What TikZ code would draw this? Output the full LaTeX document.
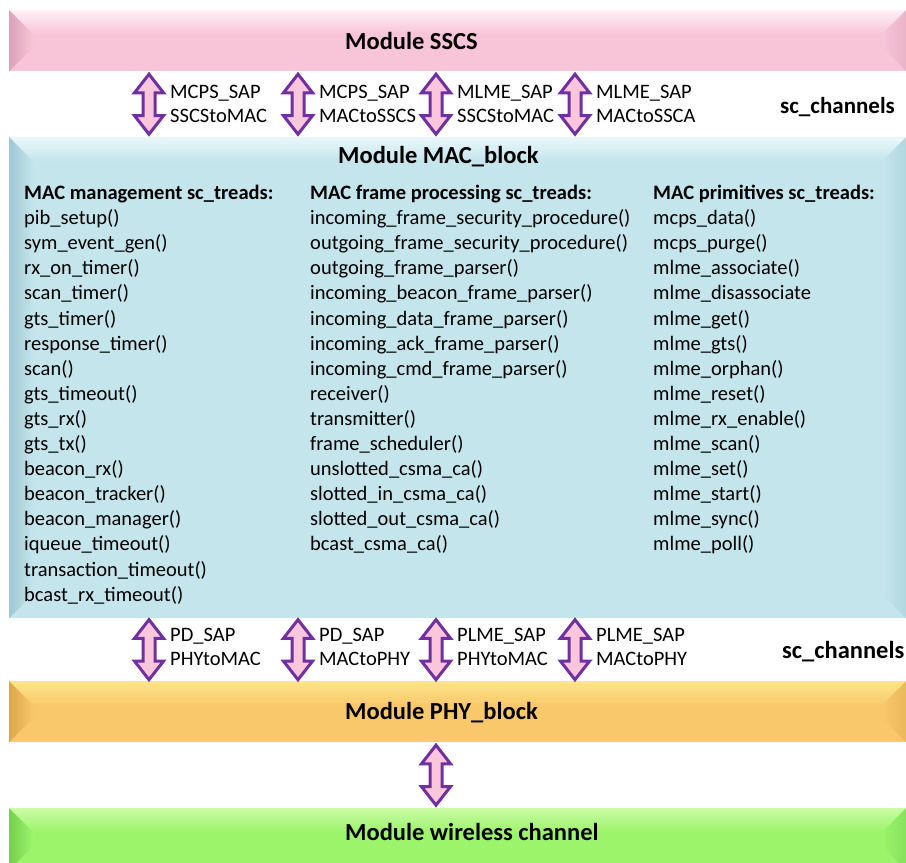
\documentclass[tikz,border=0pt]{standalone}
\usepackage{fontspec}
\setmainfont{Carlito}
\usetikzlibrary{shapes.arrows, calc}

\definecolor{sapline}{HTML}{7030A0}
\definecolor{sapfill}{HTML}{F9C6DC}
\definecolor{sscsbase}{HTML}{F8C4D8}
\definecolor{sscslight}{HTML}{FEF0F5}
\definecolor{sscsdark}{HTML}{D9A3B8}
\definecolor{macbase}{HTML}{C4E5EC}
\definecolor{maclight}{HTML}{EAF7FA}
\definecolor{macdark}{HTML}{9FC8D2}
\definecolor{phybase}{HTML}{F9C86A}
\definecolor{phylight}{HTML}{FDE58C}
\definecolor{phydark}{HTML}{DDA64C}
\definecolor{wlbase}{HTML}{9CF46B}
\definecolor{wllight}{HTML}{CBFBA6}
\definecolor{wldark}{HTML}{74CF4E}

\tikzstyle{bar}=[rectangle, inner sep=0pt, minimum width=897pt, anchor=north west]
\tikzstyle{sap}=[double arrow, rotate=90, draw=sapline, fill=sapfill, line width=3pt, inner xsep=0pt, inner ysep=4.5pt, minimum height=60pt, minimum width=27pt, double arrow head extend=8.5pt, double arrow tip angle=76]
\tikzstyle{title}=[font=\fontsize{24.5}{29}\selectfont\bfseries, anchor=base west, inner sep=0pt]
\tikzstyle{txt}=[font=\fontsize{20.5}{25}\selectfont, anchor=base west, inner sep=0pt]
\tikzstyle{hdr}=[font=\fontsize{20.5}{25}\selectfont\bfseries, anchor=base west, inner sep=0pt]
\tikzstyle{chan}=[font=\fontsize{23}{28}\selectfont\bfseries, anchor=base west, inner sep=0pt]

% bar with bevelled edges: node, base, light, dark
\newcommand{\bevel}[4]{%
  \fill[#2] (#1.north west) rectangle (#1.south east);
  \shade[top color=#3, bottom color=#2] (#1.north west) -- (#1.north east)
    -- ($(#1.north east)+(-24,24)$) -- ($(#1.north west)+(24,24)$) -- cycle;
  \shade[left color=#4, right color=#2] (#1.north west) -- ($(#1.north west)+(24,24)$)
    -- ($(#1.south west)+(24,-24)$) -- (#1.south west) -- cycle;
  \shade[left color=#2, right color=#4!50!#2] (#1.north east) -- ($(#1.north east)+(-24,24)$)
    -- ($(#1.south east)+(-24,-24)$) -- (#1.south east) -- cycle;
}

\begin{document}
\begin{tikzpicture}[x=1pt, y=-1pt]
    \useasboundingbox (0,0) rectangle (906,863);
    \node[bar, minimum height=61pt] (sscs) at (9,10) {};
    \node[bar, minimum height=481pt] (mac) at (9,137) {};
    \node[bar, minimum height=61pt] (phy) at (9,681) {};
    \node[bar, minimum height=62pt] (wl) at (9,808) {};
    \bevel{sscs}{sscsbase}{sscslight}{sscsdark}
    \bevel{mac}{macbase}{maclight}{macdark}
    \bevel{phy}{phybase}{phylight}{phydark}
    \bevel{wl}{wlbase}{wllight}{wldark}
    \node[title] (tsscs) at (345,49) {Module SSCS};
    \node[title] (tmac) at (338,163) {Module MAC\_block};
    \node[title] (tphy) at (345,719) {Module PHY\_block};
    \node[title] (twl) at (345,840) {Module wireless channel};

    % service access points
    \foreach \x/\n in {149/1, 298/2, 436/3, 575/4} {
        \coordinate (c\n) at (\x,0);
        \path (sscs.south -| c\n) -- (mac.north -| c\n) node[midway, sap] (up\n) {};
        \path (mac.south -| c\n) -- (phy.north -| c\n) node[midway, sap] (dn\n) {};
    }
    \coordinate (c5) at (436,0);
    \path (phy.south -| c5) -- (wl.north -| c5) node[midway, sap] (air) {};
    \foreach \x/\a/\b [count=\i] in {170/MCPS\_SAP/SSCStoMAC, 319/MCPS\_SAP/MACtoSSCS, 457/MLME\_SAP/SSCStoMAC, 596/MLME\_SAP/MACtoSSCA} {
        \node[txt] (ua\i) at (\x,98) {\a};
        \node[txt] (ub\i) at (\x,122) {\b};
    }
    \foreach \x/\a/\b [count=\i] in {170/PD\_SAP/PHYtoMAC, 319/PD\_SAP/MACtoPHY, 457/PLME\_SAP/PHYtoMAC, 596/PLME\_SAP/MACtoPHY} {
        \node[txt] (da\i) at (\x,641) {\a};
        \node[txt] (db\i) at (\x,665) {\b};
    }
    \node[chan] (ch1) at (780,113) {sc\_channels};
    \node[chan, font=\fontsize{24.5}{29}\selectfont\bfseries] (ch2) at (782,658) {sc\_channels};

    % sc_treads
    \node[hdr] (hmg) at (24,199.5) {MAC management sc\_treads:};
    \node[hdr] (hfp) at (310,199.5) {MAC frame processing sc\_treads:};
    \node[hdr] (hpr) at (653,199.5) {MAC primitives sc\_treads:};
    \foreach \t [count=\i] in {pib\_setup(), sym\_event\_gen(), rx\_on\_timer(), scan\_timer(), gts\_timer(), response\_timer(), scan(), gts\_timeout(), gts\_rx(), gts\_tx(), beacon\_rx(), beacon\_tracker(), beacon\_manager(), iqueue\_timeout(), transaction\_timeout(), bcast\_rx\_timeout()}
        \node[txt] (mg\i) at (24,199.5+25.1*\i) {\t};
    \foreach \t [count=\i] in {incoming\_frame\_security\_procedure(), outgoing\_frame\_security\_procedure(), outgoing\_frame\_parser(), incoming\_beacon\_frame\_parser(), incoming\_data\_frame\_parser(), incoming\_ack\_frame\_parser(), incoming\_cmd\_frame\_parser(), receiver(), transmitter(), frame\_scheduler(), unslotted\_csma\_ca(), slotted\_in\_csma\_ca(), slotted\_out\_csma\_ca(), bcast\_csma\_ca()}
        \node[txt] (fp\i) at (310,199.5+25.1*\i) {\t};
    \foreach \t [count=\i] in {mcps\_data(), mcps\_purge(), mlme\_associate(), mlme\_disassociate, mlme\_get(), mlme\_gts(), mlme\_orphan(), mlme\_reset(), mlme\_rx\_enable(), mlme\_scan(), mlme\_set(), mlme\_start(), mlme\_sync(), mlme\_poll()}
        \node[txt] (pr\i) at (653,199.5+25.1*\i) {\t};
\end{tikzpicture}
\end{document}
